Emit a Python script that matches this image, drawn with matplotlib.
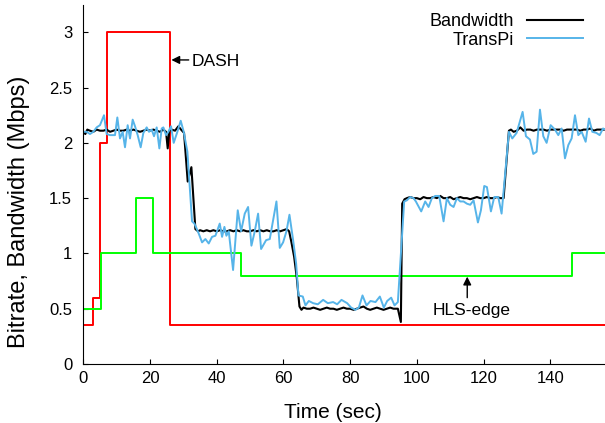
import matplotlib
matplotlib.use('Agg')
import matplotlib.pyplot as plt

plt.rcParams['font.family'] = ['Liberation Sans', 'DejaVu Sans']

# DASH bitrate (step, value holds until next time)
dash_t = [0, 2.8, 4.9, 7.2, 25.9, 156.5]
dash_v = [0.35, 0.6, 2.0, 3.0, 0.35, 0.35]

# HLS-edge bitrate (step)
hls_t = [0, 5.4, 15.7, 21.0, 47.2, 146.4, 156.5]
hls_v = [0.5, 1.0, 1.5, 1.0, 0.8, 1.0, 1.0]

# measured bandwidth
bw_t = [0, 0.6, 1.2, 2, 3, 4, 5, 6, 7, 8, 9, 10, 11, 12, 13, 14, 15, 16, 17, 18,
        19, 20, 21, 22, 23, 24, 24.8, 25.3, 25.8, 26.5, 27.5, 28.5, 29.3, 30.2,
        31.3, 32.4, 33.6, 34.4, 35, 36, 37, 38, 39, 40, 41, 42, 43, 44, 45, 46,
        47, 48, 49, 50, 51, 52, 53, 54, 55, 56, 57, 58, 59, 60, 61, 61.7, 62.4,
        63.2, 64, 64.8, 65.4, 66, 67, 68, 69, 70, 71, 72, 73, 74, 75, 76, 77, 78,
        79, 80, 81, 82, 83, 84, 85, 86, 87, 88, 89, 90, 91, 92, 93, 94.3, 95.2,
        95.6, 96.3, 97, 98, 99, 100, 101, 102, 103, 104, 105, 106, 107, 108, 109,
        110, 111, 112, 113, 114, 115, 116, 117, 118, 119, 120, 121, 122, 123,
        124, 125, 126, 127.6, 128.2, 129, 130, 131, 132, 133, 134, 135, 136,
        137, 138, 139, 140, 141, 142, 143, 144, 145, 146, 147, 148, 149, 150,
        151, 152, 153, 154, 155, 156.5]
bw_v = [2.1, 2.08, 2.12, 2.11, 2.1, 2.12, 2.11, 2.11, 2.12, 2.1, 2.11, 2.12, 2.11,
        2.11, 2.12, 2.11, 2.12, 2.11, 2.1, 2.11, 2.12, 2.11, 2.12, 2.11, 2.1, 2.12,
        2.1, 1.95, 2.11, 2.12, 2.11, 2.15, 2.12, 2.09,
        1.65, 1.78, 1.22, 1.2, 1.21, 1.2, 1.21, 1.2, 1.21, 1.2, 1.21, 1.2, 1.2,
        1.21, 1.2, 1.21, 1.2, 1.21, 1.2, 1.2, 1.21, 1.2, 1.21, 1.2, 1.21, 1.2, 1.2,
        1.21, 1.2, 1.21, 1.22, 1.2, 1.1, 0.97, 0.78, 0.52, 0.49, 0.51, 0.5, 0.5,
        0.51, 0.5, 0.49, 0.5, 0.51, 0.5, 0.5, 0.49, 0.5, 0.51, 0.5, 0.5, 0.49,
        0.5, 0.51, 0.52, 0.5, 0.49, 0.5, 0.51, 0.5, 0.49, 0.5, 0.51, 0.5, 0.5,
        0.38, 1.45, 1.49, 1.5, 1.51, 1.5, 1.5, 1.49, 1.51, 1.5, 1.5, 1.51, 1.5,
        1.52, 1.5, 1.5, 1.51, 1.49, 1.5, 1.51, 1.5, 1.5, 1.49, 1.5, 1.51, 1.5,
        1.5, 1.51, 1.5, 1.5, 1.51, 1.5, 1.5, 2.11, 2.12, 2.1, 2.11, 2.14, 2.11,
        2.12, 2.12, 2.11, 2.12, 2.12, 2.12, 2.11, 2.12, 2.12, 2.12, 2.12, 2.11,
        2.12, 2.12, 2.12, 2.12, 2.11, 2.12, 2.12, 2.13, 2.11, 2.12, 2.12, 2.12]

# TransPi estimate
tp_t = [0, 1, 2, 3, 4, 5, 6.2, 7, 8, 9.5, 10.2, 11, 11.8, 12.5, 13.3, 14, 14.8,
        15.5, 16.3, 17.2, 18, 19, 19.7, 20.5, 21.2, 22, 22.8, 23.5, 24, 24.8,
        25.5, 26.3, 27.1, 28.2, 29.2, 30.1, 31.2, 32.6, 33.3, 33.9, 34.6, 35.6,
        36.6, 37.6, 38.6, 39.6, 40.9, 41.6, 42.3, 42.9, 43.6, 44.9, 46.3, 47.3,
        48.4, 49.4, 50.4, 51.4, 52.4, 53.3, 54.8, 55.9, 56.9, 57.9, 58.9, 59.9,
        60.9, 61.8, 62.9, 63.8, 64.5, 65.8, 66.6, 67.6, 68.9, 70.3, 71.9, 73.3,
        74.9, 76.1, 77.4, 79.1, 80.3, 81.6, 82.6, 83.7, 84.9, 86.1, 87.6, 88.9,
        90.1, 91.1, 92.3, 93.3, 94.3, 96.2, 97, 98, 99, 99.7, 101.3, 102.5, 103.5,
        104.5, 105.5, 106.7, 108, 109, 110, 111, 112, 113, 114, 115, 116, 117,
        118.3, 119.2, 120.2, 121, 122.2, 123.2, 124.4, 125.4, 127.6, 128.6,
        129.9, 131.7, 132.7, 133.9, 134.9, 135.9, 136.9, 137.9, 138.9, 140.1,
        141.4, 142.4, 143.4, 144.4, 145.4, 146.4, 147.4, 148.4, 149.4, 150.6,
        151.6, 152.6, 153.8, 154.8, 155.8, 156.5]
tp_v = [2.1, 2.1, 2.08, 2.1, 2.14, 2.16, 2.25, 2.08, 2.07, 2.07, 2.23, 2.04, 2.1,
        1.96, 2.16, 2.04, 2.21, 2.15, 2.07, 1.96, 2.09, 2.14, 2.1, 2.12, 2.06,
        2.14, 1.95, 2.13, 2.14, 2.07, 2.1, 2.15, 2.0, 2.1, 2.2, 2.1, 1.92, 1.29,
        1.27, 1.23, 1.18, 1.1, 1.13, 1.09, 1.15, 1.16, 1.27, 1.15, 1.24, 1.16,
        1.2, 0.85, 1.39, 1.2, 1.36, 1.42, 1.07, 1.2, 1.36, 1.04, 1.12, 1.13, 1.3,
        1.47, 1.05, 1.1, 1.2, 1.35, 1.12, 0.91, 0.62, 0.61, 0.53, 0.57, 0.55,
        0.54, 0.58, 0.55, 0.56, 0.54, 0.58, 0.55, 0.51, 0.49, 0.51, 0.62, 0.53,
        0.57, 0.56, 0.61, 0.51, 0.57, 0.6, 0.53, 0.56, 1.47, 1.48, 1.51, 1.5,
        1.47, 1.38, 1.47, 1.42, 1.5, 1.52, 1.52, 1.29, 1.5, 1.44, 1.42, 1.5, 1.47,
        1.47, 1.45, 1.44, 1.48, 1.28, 1.39, 1.61, 1.6, 1.38, 1.51, 1.51, 1.36,
        2.1, 2.04, 2.09, 2.28, 2.06, 2.03, 1.9, 1.92, 2.3, 2.06, 2.0, 2.16, 2.12,
        2.07, 2.13, 1.86, 1.98, 2.04, 2.25, 2.07, 2.1, 2.01, 2.22, 2.1, 2.09,
        2.07, 2.13, 2.12]

fig = plt.figure(figsize=(6.05, 4.23), dpi=100)
ax = fig.add_axes([0.1377, 0.1395, 0.8623, 0.8495])

ax.step(dash_t, dash_v, where='post', color='#ff0000', lw=1.4)
ax.step(hls_t, hls_v, where='post', color='#00ff00', lw=1.4)
ax.plot(bw_t, bw_v, color='black', lw=1.5, label='Bandwidth')
ax.plot(tp_t, tp_v, color='#56b4e9', lw=1.4, label='TransPi')

ax.set_xlim(0, 156.4)
ax.set_ylim(0, 3.25)
ax.set_xticks(range(0, 141, 20))
ax.set_yticks([0, 0.5, 1, 1.5, 2, 2.5, 3])
ax.set_yticklabels(['0', '0.5', '1', '1.5', '2', '2.5', '3'])

for s in ['top', 'right']:
    ax.spines[s].set_visible(False)
ax.tick_params(direction='in', length=3.5, width=0.8, labelsize=12)
ax.tick_params(axis='y', pad=8)
ax.tick_params(axis='x', pad=5)

ax.set_xlabel('Time (sec)', fontsize=15)
ax.set_ylabel('Bitrate, Bandwidth (Mbps)', fontsize=17)
ax.xaxis.set_label_coords(0.479, -0.108)
ax.yaxis.set_label_coords(-0.103, 0.424)

ax.legend(loc='upper right', bbox_to_anchor=(0.957, 0.977), frameon=False,
          markerfirst=False, fontsize=13, handlelength=3.1, handletextpad=0.7,
          labelspacing=0.1, borderpad=0, borderaxespad=0)

arrow = dict(arrowstyle='-|>', color='black', lw=1, mutation_scale=12,
             shrinkA=0, shrinkB=0)
ax.annotate('', xy=(26.4, 2.75), xytext=(31.6, 2.75), arrowprops=arrow)
ax.text(32.6, 2.74, 'DASH', fontsize=12.5, va='center', ha='left')
ax.annotate('', xy=(115.1, 0.79), xytext=(115.1, 0.6), arrowprops=arrow)
ax.text(116.3, 0.485, 'HLS-edge', fontsize=12.5, va='center', ha='center')

fig.savefig('out.png', dpi=100)
